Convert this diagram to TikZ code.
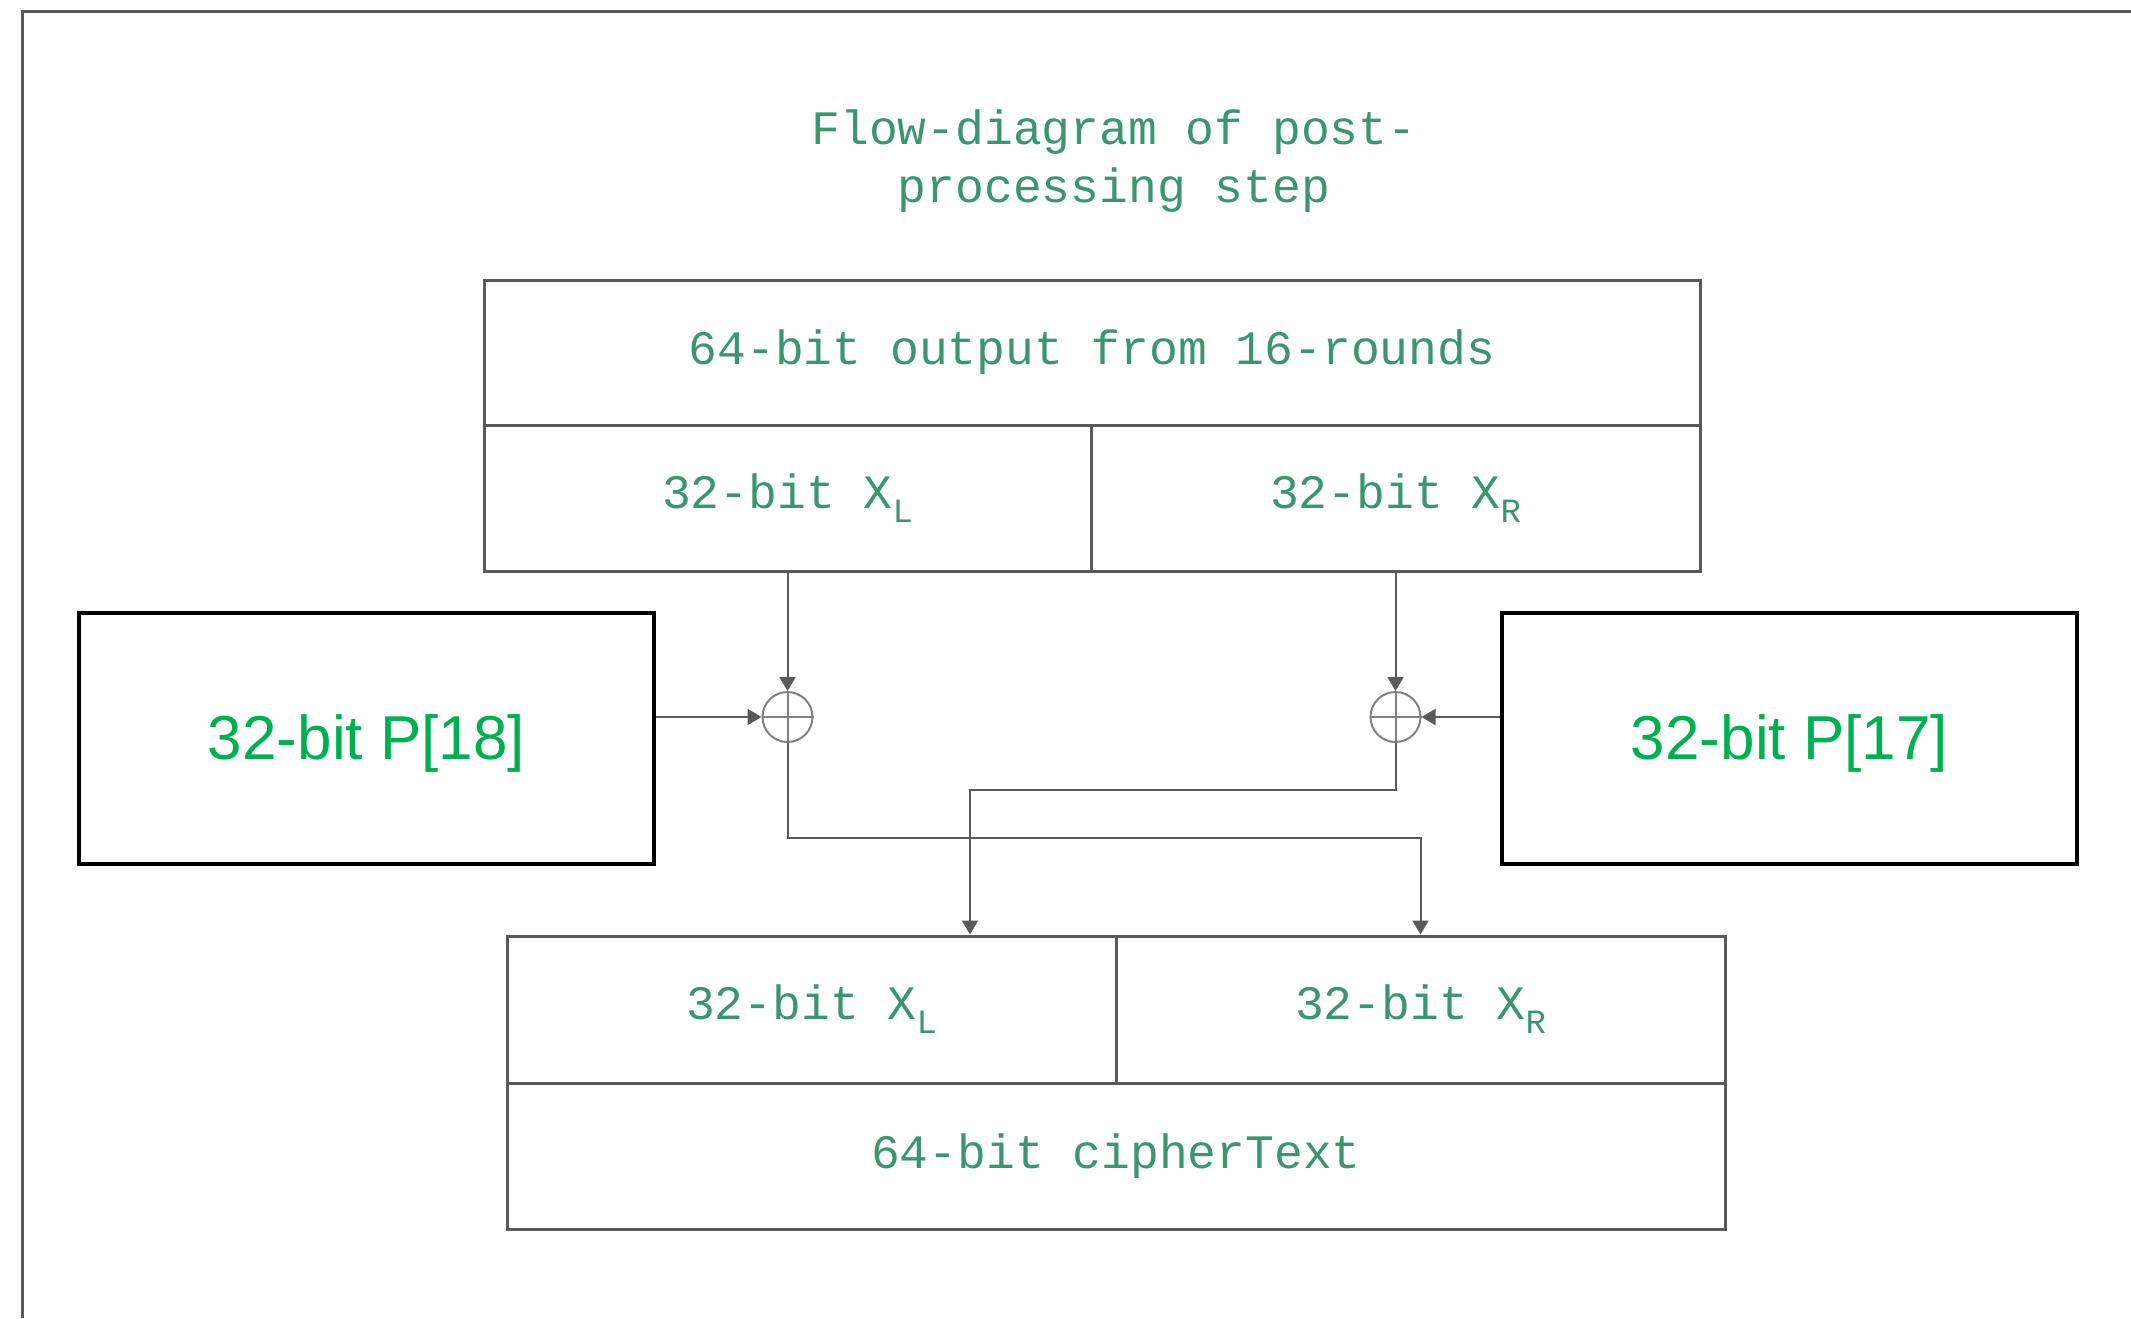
\documentclass[tikz,border=0pt]{standalone}
\usepackage{fontspec}
\setmainfont{Liberation Sans}
\setmonofont{Liberation Mono}
\usetikzlibrary{arrows.meta}
\definecolor{mono}{RGB}{58,150,110}
\definecolor{pgreen}{RGB}{0,176,80}
\definecolor{edge}{RGB}{90,90,90}
\newcommand\sbs[1]{\raisebox{-0.55ex}{\fontsize{17}{17}\selectfont #1}}
\begin{document}
\begin{tikzpicture}[x=0.5pt,y=-0.5pt,
 cell/.style={draw=edge, line width=1.5pt, inner sep=0pt, font=\ttfamily\fontsize{24}{28}\selectfont, text=mono},
 pbox/.style={draw=black, line width=2pt, minimum width=287.5pt, minimum height=125.5pt, inner sep=0pt, text height=27pt, text depth=6.5pt, font=\fontsize{31}{36}\selectfont, text=pgreen},
 xor/.style={circle, draw=gray, line width=1pt, minimum size=25pt, inner sep=0pt},
 conn/.style={draw=edge, line width=1pt},
 arr/.style={conn, -{Triangle[length=7pt,width=8pt]}}]
\useasboundingbox (0,0) rectangle (2131,1318);
\draw[edge, line width=1.5pt] (22,1318) -- (22,11) -- (2131,11);
\node[font=\ttfamily\fontsize{24}{29}\selectfont, text=mono, align=center] (title) at (1114,161) {Flow-diagram of post-\\processing step};
% top block
\node[cell, minimum width=608pt, minimum height=72.5pt] (top64) at (1092,352.5) {64-bit output from 16-rounds};
\node[cell, minimum width=303.5pt, minimum height=73pt] (topL) at (787.5,498) {32-bit X\sbs{L}};
\node[cell, minimum width=304.5pt, minimum height=73pt] (topR) at (1395.5,498) {32-bit X\sbs{R}};
% bottom block
\node[cell, minimum width=304.5pt, minimum height=73.5pt] (botL) at (811.5,1009.5) {32-bit X\sbs{L}};
\node[cell, minimum width=304.5pt, minimum height=73.5pt] (botR) at (1420.5,1009.5) {32-bit X\sbs{R}};
\node[cell, minimum width=609pt, minimum height=73pt] (bot64) at (1116,1156) {64-bit cipherText};
% P boxes
\node[pbox] (p18) at (366.5,738.5) {32-bit P[18]};
\node[pbox] (p17) at (1789.5,738.5) {32-bit P[17]};
% xor
\node[xor] (xorL) at (787.5,717) {};
\node[xor] (xorR) at (1395.5,717) {};
\draw[gray, line width=1pt] (xorL.north) -- (xorL.south) (xorL.west) -- (xorL.east);
\draw[gray, line width=1pt] (xorR.north) -- (xorR.south) (xorR.west) -- (xorR.east);
% connectors
\draw[arr] (topL.south) -- (xorL.north);
\draw[arr] (topR.south) -- (xorR.north);
\draw[arr] (p18.east |- xorL.west) -- (xorL.west);
\draw[arr] (p17.west |- xorR.east) -- (xorR.east);
\coordinate (bendR) at (970,790);
\draw[arr] (xorR.south) |- (bendR) -- (bendR |- botL.north);
\coordinate (yl) at (0,838);
\draw[arr] (xorL.south) |- (botR.north |- yl) -- (botR.north);
\end{tikzpicture}
\end{document}
